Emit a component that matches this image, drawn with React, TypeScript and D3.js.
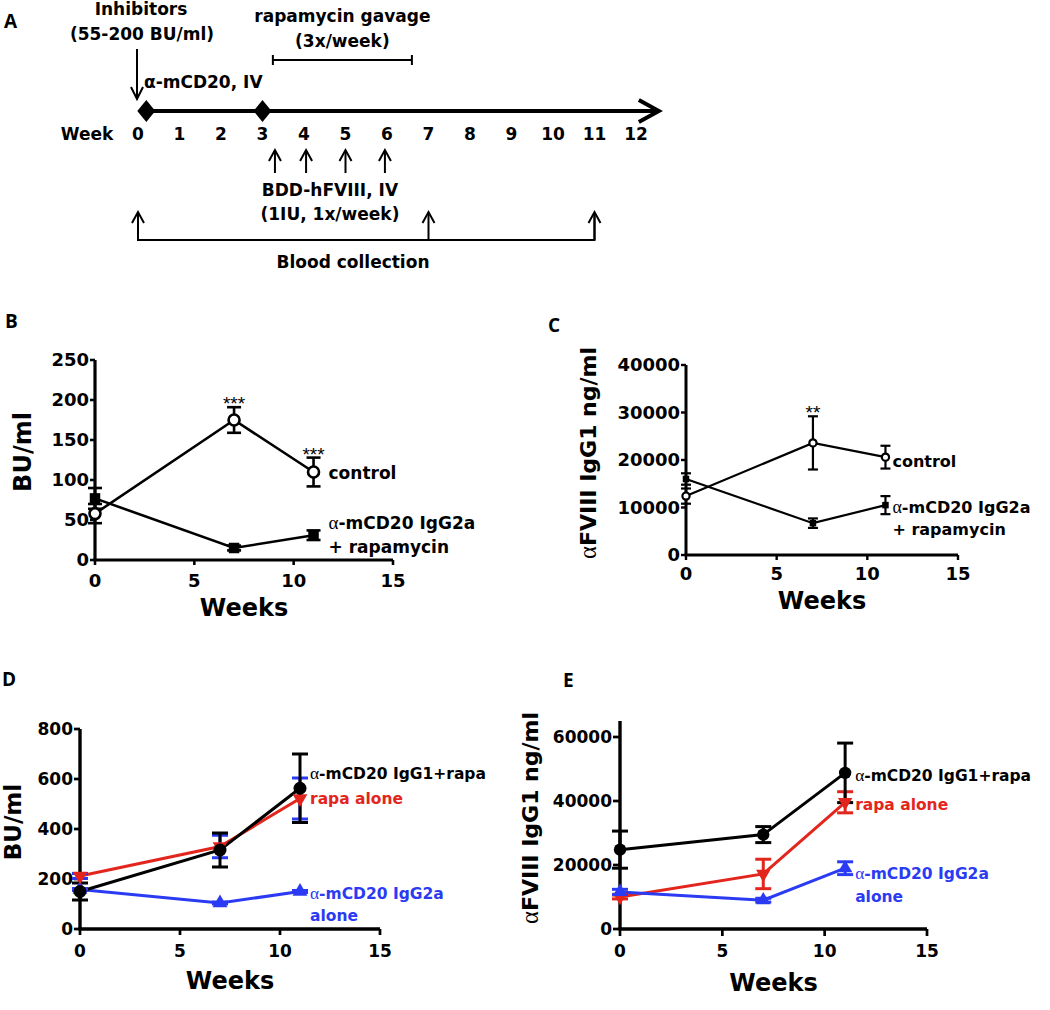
import React from "react";
import * as d3 from "d3";

const SANS = "'DejaVu Sans', sans-serif";
const SERIF = "'Liberation Serif', 'DejaVu Serif', serif";
const ARIAL = "'Liberation Sans', Arial, sans-serif";
const LETTER_FONT = "'Open Sans', 'Liberation Sans', sans-serif";
const RED = "#e3261d";
const BLUE = "#2b3bf3";
const BLACK = "#000000";

// ---------------- Panel A (timeline) data ----------------
const weekTicks = d3.range(0, 13);
const antibodyWeeks = [0.2, 3];
const fviiiWeeks = [3.3, 4.05, 5.0, 5.95];
const bloodWeeks = [0, 7, 11];
const rapaWeeks = [3.25, 6.6];
const timelineEnd = 12.55;

// ---------------- Shared x data ----------------
const weeks = [0, 7, 11];
const xTicks = [0, 5, 10, 15];

// ---------------- Panel B ----------------
const bControl = [58, 175, 110];
const bControlErr = [12, 16, 18];
const bRapa = [77, 15, 31];
const bRapaErr = [13, 3, 6];
const bStars = ["", "***", "***"];
const bYTicks = [0, 50, 100, 150, 200, 250];
const bLabels = ["control", "α-mCD20 IgG2a", "+ rapamycin"];

// ---------------- Panel C ----------------
const cControl = [12400, 23600, 20600];
const cControlErr = [1600, 5600, 2400];
const cRapa = [16000, 6700, 10500];
const cRapaErr = [1200, 1000, 1900];
const cStars = ["", "**", ""];
const cYTicks = [0, 10000, 20000, 30000, 40000];
const cLabels = ["control", "α-mCD20 IgG2a", "+ rapamycin"];

// ---------------- Panel D ----------------
const dIgG1Rapa = [150, 316, 563];
const dIgG1RapaErr = [34, 68, 137];
const dRapa = [212, 330, 522];
const dRapaErr = [10, 45, 82];
const dIgG2a = [158, 104, 150];
const dIgG2aErr = [4, 4, 4];
const dYTicks = [0, 200, 400, 600, 800];
const dLabels = ["α-mCD20 IgG1+rapa", "rapa alone", "α-mCD20 IgG2a", "alone"];

// ---------------- Panel E ----------------
const eIgG1Rapa = [24800, 29500, 48800];
const eIgG1RapaErr = [5800, 2500, 9300];
const eRapa = [10000, 17200, 39600];
const eRapaErr = [600, 4600, 3300];
const eIgG2a = [11600, 9000, 19000];
const eIgG2aErr = [800, 600, 2000];
const eYTicks = [0, 20000, 40000, 60000];
const eLabels = ["α-mCD20 IgG1+rapa", "rapa alone", "α-mCD20 IgG2a", "alone"];

type Marker = "openCircle" | "circle" | "square" | "triUp" | "triDown";

interface Series {
  values: number[];
  errs: number[];
  color: string;
  errColor: string;
  marker: Marker;
  size: number;
  stars?: string[];
}

interface LabelSpec {
  text: string;
  dx: number;
  y: number;
  color: string;
}

interface PanelCfg {
  left: number;
  right: number;
  bottom: number;
  top: number;
  yDomain: [number, number];
  yTicks: number[];
  tickFont: number;
  tickLen: number;
  axisWidth: number;
  lineWidth: number;
  capHalf: number;
  xTickBaseline: number;
  xTitleBaseline: number;
  yTitle: string;
  yTitleX: number;
  yTitleY: number;
  yTitleSize: number;
  series: Series[];
  labels: LabelSpec[];
  labelSize: number;
  starSize: number;
}

function RichText({ text, size }: { text: string; size: number }) {
  const parts = text.split(/(α)/).filter((p) => p.length > 0);
  return (
    <>
      {parts.map((p, i) =>
        p === "α" ? (
          <tspan key={i} fontFamily={SERIF} fontWeight="normal" fontSize={size * 1.12}>
            α
          </tspan>
        ) : (
          <tspan key={i}>{p}</tspan>
        )
      )}
    </>
  );
}

function MarkerShape({ kind, cx, cy, size, color, lw }: { kind: Marker; cx: number; cy: number; size: number; color: string; lw: number }) {
  if (kind === "openCircle") {
    return <circle cx={cx} cy={cy} r={size} fill="#fff" stroke={color} strokeWidth={lw} />;
  }
  if (kind === "circle") {
    return <circle cx={cx} cy={cy} r={size} fill={color} />;
  }
  if (kind === "square") {
    return <rect x={cx - size / 2} y={cy - size / 2} width={size} height={size} fill={color} />;
  }
  const d = d3.symbol().type(d3.symbolTriangle).size(size)() || "";
  const rot = kind === "triDown" ? 180 : 0;
  return <path d={d} transform={`translate(${cx},${cy}) rotate(${rot})`} fill={color} />;
}

function LinePanel({ cfg }: { cfg: PanelCfg }) {
  const x = d3.scaleLinear().domain([0, 15]).range([cfg.left, cfg.right]);
  const y = d3.scaleLinear().domain(cfg.yDomain).range([cfg.bottom, cfg.top]);
  const lineGen = d3
    .line<number>()
    .x((_, i) => x(weeks[i]))
    .y((v) => y(v));
  return (
    <g>
      {/* axes */}
      <line x1={cfg.left} x2={cfg.left} y1={y(cfg.yDomain[0])} y2={y(cfg.yDomain[1])} stroke="#000" strokeWidth={cfg.axisWidth} />
      <line x1={cfg.left - cfg.axisWidth / 2} x2={x(15)} y1={cfg.bottom} y2={cfg.bottom} stroke="#000" strokeWidth={cfg.axisWidth} />
      {cfg.yTicks.map((t) => (
        <g key={"yt" + t}>
          <line x1={cfg.left - cfg.tickLen} x2={cfg.left} y1={y(t)} y2={y(t)} stroke="#000" strokeWidth={cfg.axisWidth * 0.8} />
          <text x={cfg.left - cfg.tickLen - 1} y={y(t)} dy="0.36em" textAnchor="end" fontFamily={SANS} fontWeight="bold" fontSize={cfg.tickFont}>
            {t}
          </text>
        </g>
      ))}
      {xTicks.map((t) => (
        <g key={"xt" + t}>
          <line x1={x(t)} x2={x(t)} y1={cfg.bottom} y2={cfg.bottom + cfg.tickLen} stroke="#000" strokeWidth={cfg.axisWidth * 0.8} />
          <text x={x(t)} y={cfg.xTickBaseline} textAnchor="middle" fontFamily={SANS} fontWeight="bold" fontSize={cfg.tickFont}>
            {t}
          </text>
        </g>
      ))}
      <text x={(x(0) + x(15)) / 2} y={cfg.xTitleBaseline} textAnchor="middle" fontFamily={SANS} fontWeight="bold" fontSize={24}>
        Weeks
      </text>
      <text
        transform={`translate(${cfg.yTitleX},${cfg.yTitleY}) rotate(-90)`}
        textAnchor="middle"
        dy="0.36em"
        fontFamily={SANS}
        fontWeight="bold"
        fontSize={cfg.yTitleSize}
      >
        <RichText text={cfg.yTitle} size={cfg.yTitleSize} />
      </text>
      {/* lines */}
      {cfg.series.map((s, si) => (
        <path key={"l" + si} d={lineGen(s.values) || ""} fill="none" stroke={s.color} strokeWidth={cfg.lineWidth} />
      ))}
      {/* error bars */}
      {cfg.series.map((s, si) =>
        s.values.map((v, i) => {
          const cx = x(weeks[i]);
          const y1 = y(v + s.errs[i]);
          const y2 = y(v - s.errs[i]);
          return (
            <g key={"e" + si + "-" + i} stroke={s.errColor} strokeWidth={cfg.lineWidth}>
              <line x1={cx} x2={cx} y1={y1} y2={y2} />
              <line x1={cx - cfg.capHalf} x2={cx + cfg.capHalf} y1={y1} y2={y1} />
              <line x1={cx - cfg.capHalf} x2={cx + cfg.capHalf} y1={y2} y2={y2} />
            </g>
          );
        })
      )}
      {/* markers */}
      {cfg.series.map((s, si) =>
        s.values.map((v, i) => (
          <MarkerShape key={"m" + si + "-" + i} kind={s.marker} cx={x(weeks[i])} cy={y(v)} size={s.size} color={s.color} lw={cfg.lineWidth} />
        ))
      )}
      {/* significance stars */}
      {cfg.series.map((s, si) =>
        (s.stars || []).map((st, i) =>
          st ? (
            <text
              key={"s" + si + "-" + i}
              x={x(weeks[i])}
              y={y(s.values[i] + s.errs[i]) + 3}
              textAnchor="middle"
              fontFamily={ARIAL}
              fontSize={cfg.starSize}
            >
              {st}
            </text>
          ) : null
        )
      )}
      {/* series labels */}
      {cfg.labels.map((l, i) => (
        <text key={"lab" + i} x={x(11) + l.dx} y={l.y} fill={l.color} fontFamily={SANS} fontWeight="bold" fontSize={cfg.labelSize}>
          <RichText text={l.text} size={cfg.labelSize} />
        </text>
      ))}
    </g>
  );
}

function PanelA() {
  const x = d3.scaleLinear().domain([0, 12]).range([138, 636]);
  const yl = 111;
  const tip = x(timelineEnd);
  const diamond = (cx: number) => `M${cx - 9},${yl} L${cx},${yl - 11} L${cx + 9},${yl} L${cx},${yl + 11} Z`;
  const upHead = (cx: number, ty: number) => `M${cx - 6},${ty + 11} L${cx},${ty} L${cx + 6},${ty + 11}`;
  const rapaMid = (x(rapaWeeks[0]) + x(rapaWeeks[1])) / 2;
  const fviiiMid = (x(fviiiWeeks[0]) + x(fviiiWeeks[fviiiWeeks.length - 1])) / 2;
  const bloodLeft = x(bloodWeeks[0]);
  const bloodRight = x(bloodWeeks[bloodWeeks.length - 1]);
  return (
    <g fontFamily={SANS} fontWeight="bold" fontSize={17}>
      <text x={141} y={15} textAnchor="middle">Inhibitors</text>
      <text x={142} y={40} textAnchor="middle">(55-200 BU/ml)</text>
      <line x1={x(0) - 1} x2={x(0) - 1} y1={49} y2={98} stroke="#000" strokeWidth={2} />
      <path d={`M${x(0) - 7},${87} L${x(0) - 1},${99} L${x(0) + 5},${87}`} fill="none" stroke="#000" strokeWidth={2} />
      <text x={144} y={88}>α-mCD20, IV</text>

      <text x={rapaMid} y={22} textAnchor="middle">rapamycin gavage</text>
      <text x={rapaMid} y={47} textAnchor="middle">(3x/week)</text>
      <g stroke="#000" strokeWidth={2}>
        <line x1={x(rapaWeeks[0])} x2={x(rapaWeeks[1])} y1={60} y2={60} />
        <line x1={x(rapaWeeks[0])} x2={x(rapaWeeks[0])} y1={55} y2={65} />
        <line x1={x(rapaWeeks[1])} x2={x(rapaWeeks[1])} y1={55} y2={65} />
      </g>

      <line x1={x(antibodyWeeks[0])} x2={tip - 2} y1={yl} y2={yl} stroke="#000" strokeWidth={4} />
      <path d={`M${tip - 20},${yl - 11} L${tip},${yl} L${tip - 20},${yl + 11}`} fill="none" stroke="#000" strokeWidth={4} />
      {antibodyWeeks.map((w) => (
        <path key={"d" + w} d={diamond(x(w))} fill="#000" />
      ))}

      <text x={87} y={140} textAnchor="middle">Week</text>
      {weekTicks.map((w) => (
        <text key={"w" + w} x={x(w)} y={140} textAnchor="middle">
          {w}
        </text>
      ))}

      {fviiiWeeks.map((w) => (
        <g key={"f" + w} stroke="#000" strokeWidth={2} fill="none">
          <line x1={x(w)} x2={x(w)} y1={151} y2={173} />
          <path d={upHead(x(w), 150)} />
        </g>
      ))}
      <text x={fviiiMid} y={196} textAnchor="middle">BDD-hFVIII, IV</text>
      <text x={fviiiMid} y={220} textAnchor="middle">(1IU, 1x/week)</text>

      <g stroke="#000" strokeWidth={2} fill="none">
        <path d={`M${bloodLeft},213 V240 H${bloodRight} V213`} />
        {bloodWeeks.map((w) => (
          <g key={"b" + w}>
            <line x1={x(w)} x2={x(w)} y1={213} y2={240} />
            <path d={upHead(x(w), 212)} />
          </g>
        ))}
      </g>
      <text x={353} y={268} textAnchor="middle">Blood collection</text>
    </g>
  );
}

const panelB: PanelCfg = {
  left: 95,
  right: 393,
  bottom: 560,
  top: 360,
  yDomain: [0, 250],
  yTicks: bYTicks,
  tickFont: 18,
  tickLen: 5,
  axisWidth: 3.2,
  lineWidth: 2.6,
  capHalf: 7,
  xTickBaseline: 587,
  xTitleBaseline: 616,
  yTitle: "BU/ml",
  yTitleX: 22,
  yTitleY: 452,
  yTitleSize: 24,
  labelSize: 17,
  starSize: 19,
  series: [
    { values: bRapa, errs: bRapaErr, color: BLACK, errColor: BLACK, marker: "square", size: 10.5 },
    { values: bControl, errs: bControlErr, color: BLACK, errColor: BLACK, marker: "openCircle", size: 5.5, stars: bStars },
  ],
  labels: [
    { text: bLabels[0], dx: 15, y: 479, color: BLACK },
    { text: bLabels[1], dx: 15, y: 529, color: BLACK },
    { text: bLabels[2], dx: 15, y: 553, color: BLACK },
  ],
};

const panelC: PanelCfg = {
  left: 686,
  right: 958,
  bottom: 555,
  top: 365,
  yDomain: [0, 40000],
  yTicks: cYTicks,
  tickFont: 18,
  tickLen: 5,
  axisWidth: 3,
  lineWidth: 2.2,
  capHalf: 5,
  xTickBaseline: 580,
  xTitleBaseline: 609,
  yTitle: "αFVIII IgG1 ng/ml",
  yTitleX: 588,
  yTitleY: 453,
  yTitleSize: 22,
  labelSize: 16,
  starSize: 19,
  series: [
    { values: cRapa, errs: cRapaErr, color: BLACK, errColor: BLACK, marker: "square", size: 6.5 },
    { values: cControl, errs: cControlErr, color: BLACK, errColor: BLACK, marker: "openCircle", size: 3.6, stars: cStars },
  ],
  labels: [
    { text: cLabels[0], dx: 7, y: 467, color: BLACK },
    { text: cLabels[1], dx: 7, y: 513, color: BLACK },
    { text: cLabels[2], dx: 7, y: 535, color: BLACK },
  ],
};

const panelD: PanelCfg = {
  left: 80,
  right: 380,
  bottom: 929,
  top: 729,
  yDomain: [0, 800],
  yTicks: dYTicks,
  tickFont: 17,
  tickLen: 6,
  axisWidth: 3.4,
  lineWidth: 3,
  capHalf: 8,
  xTickBaseline: 957,
  xTitleBaseline: 989,
  yTitle: "BU/ml",
  yTitleX: 13,
  yTitleY: 822,
  yTitleSize: 23,
  labelSize: 15.5,
  starSize: 19,
  series: [
    { values: dIgG2a, errs: dIgG2aErr, color: BLUE, errColor: BLUE, marker: "triUp", size: 95 },
    { values: dRapa, errs: dRapaErr, color: RED, errColor: BLUE, marker: "triDown", size: 95 },
    { values: dIgG1Rapa, errs: dIgG1RapaErr, color: BLACK, errColor: BLACK, marker: "circle", size: 6.5 },
  ],
  labels: [
    { text: dLabels[0], dx: 10, y: 779, color: BLACK },
    { text: dLabels[1], dx: 10, y: 804, color: RED },
    { text: dLabels[2], dx: 10, y: 899, color: BLUE },
    { text: dLabels[3], dx: 10, y: 921, color: BLUE },
  ],
};

const panelE: PanelCfg = {
  left: 620,
  right: 927,
  bottom: 929,
  top: 721,
  yDomain: [0, 65000],
  yTicks: eYTicks,
  tickFont: 17,
  tickLen: 7,
  axisWidth: 3.4,
  lineWidth: 3,
  capHalf: 8,
  xTickBaseline: 957,
  xTitleBaseline: 991,
  yTitle: "αFVIII IgG1 ng/ml",
  yTitleX: 530,
  yTitleY: 818,
  yTitleSize: 22,
  labelSize: 15.5,
  starSize: 19,
  series: [
    { values: eRapa, errs: eRapaErr, color: RED, errColor: RED, marker: "triDown", size: 90 },
    { values: eIgG2a, errs: eIgG2aErr, color: BLUE, errColor: BLUE, marker: "triUp", size: 90 },
    { values: eIgG1Rapa, errs: eIgG1RapaErr, color: BLACK, errColor: BLACK, marker: "circle", size: 6.2 },
  ],
  labels: [
    { text: eLabels[0], dx: 10, y: 781, color: BLACK },
    { text: eLabels[1], dx: 10, y: 810, color: RED },
    { text: eLabels[2], dx: 10, y: 879, color: BLUE },
    { text: eLabels[3], dx: 10, y: 902, color: BLUE },
  ],
};

export default function App() {
  return (
    <svg
      width={1050}
      height={1010}
      viewBox="0 0 1050 1010"
      style={{ position: "absolute", left: 0, top: 0, background: "#fff" }}
    >
      <rect x={0} y={0} width={1050} height={1010} fill="#fff" />
      <g fontFamily={LETTER_FONT} fontWeight="bold" fontSize={19}>
        <text x={4} y={28}>A</text>
        <text x={5} y={328}>B</text>
        <text x={548} y={332}>C</text>
        <text x={2} y={686}>D</text>
        <text x={563} y={687}>E</text>
      </g>
      <PanelA />
      <LinePanel cfg={panelB} />
      <LinePanel cfg={panelC} />
      <LinePanel cfg={panelD} />
      <LinePanel cfg={panelE} />
    </svg>
  );
}
